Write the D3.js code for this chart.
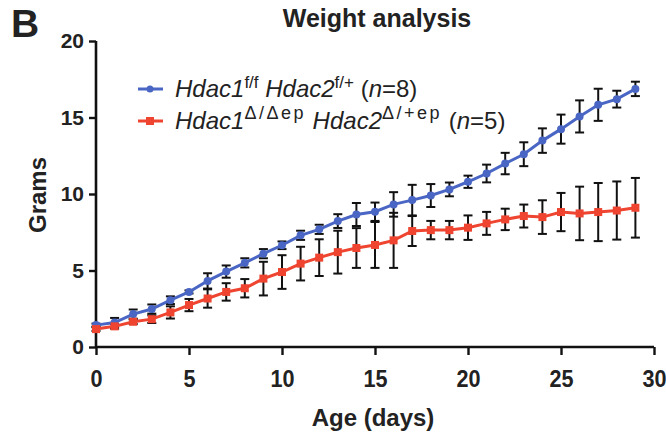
<!DOCTYPE html>
<html>
<head>
<meta charset="utf-8">
<script src="https://cdn.jsdelivr.net/npm/d3@7"></script>
<style>
  body { margin: 0; background: #fff; }
  text { font-family: "Liberation Sans", Arial, sans-serif; }
</style>
</head>
<body>
<script>
// days 0..29
let days = d3.range(0, 30);

// control (Hdac1 f/f Hdac2 f/+)
let ctrlMean = [1.43, 1.6, 2.15, 2.48, 3.06, 3.6, 4.32, 4.93, 5.5, 6.1,
  6.65, 7.3, 7.69, 8.23, 8.66, 8.84, 9.32, 9.6, 9.9, 10.3,
  10.8, 11.34, 11.99, 12.6, 13.49, 14.24, 15.07, 15.83, 16.2, 16.87];
let ctrlErr = [0.1, 0.3, 0.3, 0.3, 0.25, 0.1, 0.5, 0.4, 0.3, 0.3,
  0.25, 0.3, 0.3, 0.45, 0.75, 0.6, 0.8, 1.0, 0.75, 0.45,
  0.4, 0.58, 0.7, 0.78, 0.8, 0.95, 1.05, 1.05, 0.55, 0.47];

// knockout (Hdac1 Δ/Δep Hdac2 Δ/+ep)
let koMean = [1.17, 1.35, 1.65, 1.82, 2.26, 2.74, 3.17, 3.6, 3.84, 4.47,
  4.9, 5.45, 5.84, 6.2, 6.47, 6.67, 6.97, 7.58, 7.64, 7.64,
  7.8, 8.08, 8.34, 8.56, 8.49, 8.82, 8.73, 8.82, 8.92, 9.1];
let koErr = [0.12, 0.15, 0.15, 0.25, 0.4, 0.4, 0.6, 0.57, 0.6, 1.1,
  1.1, 1.1, 1.2, 1.4, 1.3, 1.5, 1.8, 0.98, 0.6, 0.6,
  0.8, 0.75, 0.7, 0.75, 1.1, 1.25, 1.75, 1.9, 1.9, 1.95];

let xTicks = [0, 5, 10, 15, 20, 25, 30];
let yTicks = [0, 5, 10, 15, 20];

let svgWidth = 666;
let svgHeight = 435;
var margin = { top: 41, right: 12, bottom: 88, left: 96 };
var width = svgWidth - margin.left - margin.right;
var height = svgHeight - margin.top - margin.bottom;

var svg = d3.select("body")
  .append("svg")
  .attr("width", svgWidth)
  .attr("height", svgHeight);

var chartGroup = svg.append("g")
  .attr("transform", `translate(${margin.left}, ${margin.top})`);

var xScale = d3.scaleLinear().domain([0, 30]).range([0, width]);
var yScale = d3.scaleLinear().domain([0, 20]).range([height, 0]);

var blue = "#4a66c4";
var red = "#ee4430";

// axes
var bottomAxis = d3.axisBottom(xScale).tickValues(xTicks).tickSize(8);
var leftAxis = d3.axisLeft(yScale).tickValues(yTicks).tickSize(7).tickPadding(5);

var xg = chartGroup.append("g")
  .attr("transform", `translate(0,${height})`)
  .call(bottomAxis);
var yg = chartGroup.append("g").call(leftAxis);

[xg, yg].forEach(g => {
  g.select(".domain").attr("stroke", "#111").attr("stroke-width", 2.6)
    .attr("d", g === xg ? `M0,0H${width}` : `M0,${height}V0`);
  g.selectAll(".tick line").attr("stroke", "#111").attr("stroke-width", 2.4);
  g.selectAll(".tick text")
    .attr("fill", "#222")
    .attr("font-size", "21px")
    .attr("font-weight", "bold")
    .attr("font-family", "'Liberation Sans', Arial, sans-serif");
});
xg.selectAll(".tick text")
  .attr("font-size", "24px")
  .attr("y", 40)
  .attr("dy", null)
  .attr("transform", "scale(0.9,1)");

var series = [
  { mean: ctrlMean, err: ctrlErr, color: blue, shape: "circle" },
  { mean: koMean, err: koErr, color: red, shape: "square" }
];

// error bars
series.forEach(s => {
  var eb = chartGroup.append("g")
    .attr("stroke", "#111")
    .attr("stroke-width", 2);
  eb.selectAll("line.v")
    .data(days)
    .enter()
    .append("line")
    .attr("x1", d => xScale(d))
    .attr("x2", d => xScale(d))
    .attr("y1", d => yScale(s.mean[d] - s.err[d]))
    .attr("y2", d => yScale(s.mean[d] + s.err[d]));
  [-1, 1].forEach(sign => {
    eb.selectAll(null)
      .data(days)
      .enter()
      .append("line")
      .attr("x1", d => xScale(d) - 4.5)
      .attr("x2", d => xScale(d) + 4.5)
      .attr("y1", d => yScale(s.mean[d] + sign * s.err[d]))
      .attr("y2", d => yScale(s.mean[d] + sign * s.err[d]));
  });
});

// lines and markers
var line = d3.line().x((d, i) => xScale(days[i])).y(d => yScale(d));
series.forEach(s => {
  chartGroup.append("path")
    .datum(s.mean)
    .attr("fill", "none")
    .attr("stroke", s.color)
    .attr("stroke-width", 3)
    .attr("d", line);
  if (s.shape === "circle") {
    chartGroup.append("g").selectAll("circle")
      .data(days)
      .enter()
      .append("circle")
      .attr("cx", d => xScale(d))
      .attr("cy", d => yScale(s.mean[d]))
      .attr("r", 4)
      .attr("fill", s.color);
  } else {
    chartGroup.append("g").selectAll("rect")
      .data(days)
      .enter()
      .append("rect")
      .attr("x", d => xScale(d) - 4)
      .attr("y", d => yScale(s.mean[d]) - 4)
      .attr("width", 8)
      .attr("height", 8)
      .attr("fill", s.color);
  }
});

// titles
svg.append("text")
  .attr("x", 11).attr("y", 37)
  .attr("font-size", "39px").attr("font-weight", "bold").attr("fill", "#222")
  .text("B");

svg.append("text")
  .attr("x", 377).attr("y", 27)
  .attr("text-anchor", "middle")
  .attr("font-size", "25px").attr("font-weight", "bold").attr("fill", "#222")
  .text("Weight analysis");

svg.append("text")
  .attr("transform", "rotate(-90)")
  .attr("x", -195).attr("y", 46)
  .attr("text-anchor", "middle")
  .attr("font-size", "24px").attr("font-weight", "bold").attr("fill", "#222")
  .text("Grams");

svg.append("text")
  .attr("x", 373).attr("y", 426)
  .attr("text-anchor", "middle")
  .attr("font-size", "24px").attr("font-weight", "bold").attr("fill", "#222")
  .text("Age (days)");

// legend
var legendRows = [
  { color: blue, shape: "circle", y: 89,
    parts: [["Hdac1", "i"], ["f/f", "s"], [" Hdac2", "i"], ["f/+", "s"], [" (", "n"], ["n", "i"], ["=8)", "n"]] },
  { color: red, shape: "square", y: 121,
    parts: [["Hdac1", "i"], ["\u0394/\u0394ep", "s"], [" Hdac2", "i"], ["\u0394/+ep", "s"], [" (", "n"], ["n", "i"], ["=5)", "n"]] }
];
var legend = svg.append("g");
legendRows.forEach((r, ri) => {
  legend.append("line")
    .attr("x1", 138).attr("x2", 163)
    .attr("y1", r.y).attr("y2", r.y)
    .attr("stroke", r.color).attr("stroke-width", 3);
  if (r.shape === "circle") {
    legend.append("circle").attr("cx", 150).attr("cy", r.y).attr("r", 3.5).attr("fill", r.color);
  } else {
    legend.append("rect").attr("x", 146).attr("y", r.y - 4).attr("width", 8).attr("height", 8).attr("fill", r.color);
  }
  var t = legend.append("text")
    .attr("x", 175).attr("y", r.y + 8)
    .attr("font-size", "24px").attr("fill", "#222");
  r.parts.forEach(p => {
    var ts = t.append("tspan").text(p[0]);
    if (p[1] === "i") ts.attr("font-style", "italic");
    if (p[1] === "s") {
      ts.attr("font-size", ri === 1 ? "18px" : "17px").attr("baseline-shift", "55%");
      if (ri === 1) ts.attr("letter-spacing", "2.5px");
    }
  });
});
</script>
</body>
</html>
